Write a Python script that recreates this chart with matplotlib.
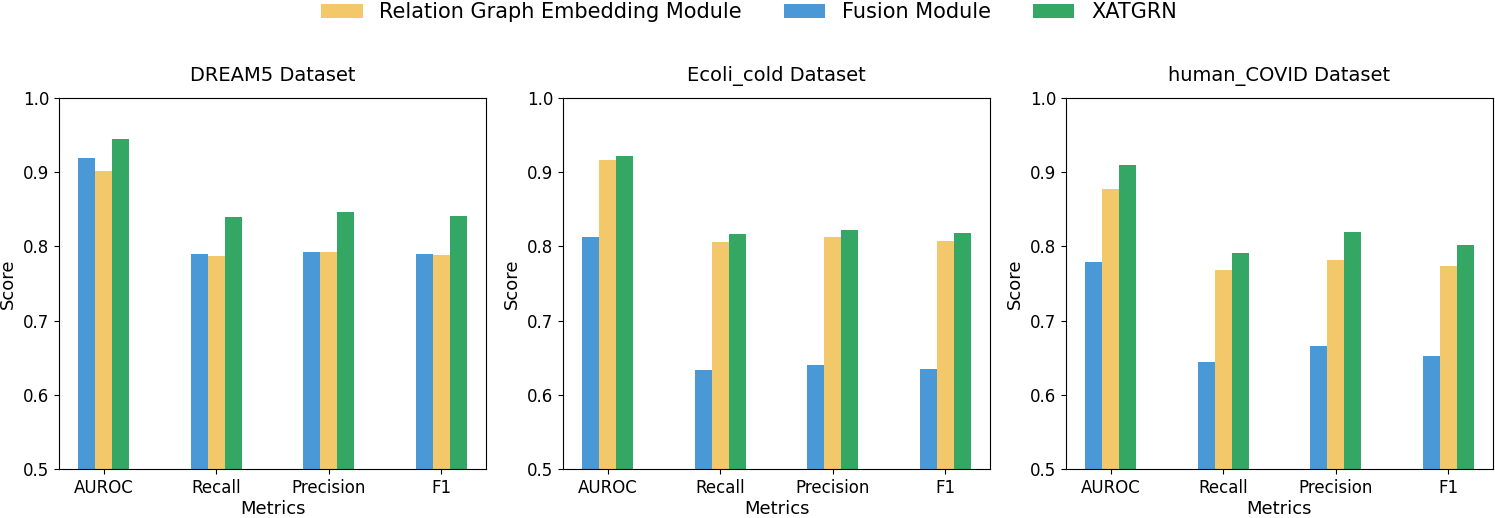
import matplotlib.pyplot as plt
import numpy as np

metrics = ['AUROC', 'Recall', 'Precision', 'F1']
datasets = ['DREAM5 Dataset', 'Ecoli_cold Dataset', 'human_COVID Dataset']

# scores per dataset, in metric order
fusion = [
    [0.919, 0.790, 0.792, 0.790],
    [0.812, 0.634, 0.640, 0.635],
    [0.779, 0.644, 0.666, 0.652],
]
rge = [
    [0.901, 0.787, 0.793, 0.788],
    [0.916, 0.806, 0.812, 0.807],
    [0.877, 0.768, 0.782, 0.773],
]
xatgrn = [
    [0.945, 0.840, 0.846, 0.841],
    [0.922, 0.817, 0.822, 0.818],
    [0.910, 0.791, 0.819, 0.802],
]

c_blue = '#4a98d6'
c_yellow = '#f2c86a'
c_green = '#34a765'

fig = plt.figure(figsize=(14.95, 5.18), dpi=100)
lefts = [59, 563, 1066]
axes = []
for l in lefts:
    axes.append(fig.add_axes([l / 1495, 49 / 518, 427 / 1495, 371 / 518]))

x = np.arange(len(metrics))
w = 0.15

for i, ax in enumerate(axes):
    b1 = ax.bar(x - w, fusion[i], w, color=c_blue, label='Fusion Module')
    b2 = ax.bar(x, rge[i], w, color=c_yellow, label='Relation Graph Embedding Module')
    b3 = ax.bar(x + w, xatgrn[i], w, color=c_green, label='XATGRN')
    ax.set_ylim(0.5, 1.0)
    ax.set_xticks(x)
    ax.set_xticklabels(metrics)
    ax.tick_params(labelsize=12)
    ax.set_xlabel('Metrics', fontsize=13, labelpad=2)
    ax.set_ylabel('Score', fontsize=13)
    ax.set_title(datasets[i], fontsize=14, pad=12)

fig.legend([b2, b1, b3],
           ['Relation Graph Embedding Module', 'Fusion Module', 'XATGRN'],
           loc='upper center', bbox_to_anchor=(0.501, 1.032), ncol=3,
           frameon=False, fontsize=15, columnspacing=2.0)

fig.savefig('out.png', dpi=100)
